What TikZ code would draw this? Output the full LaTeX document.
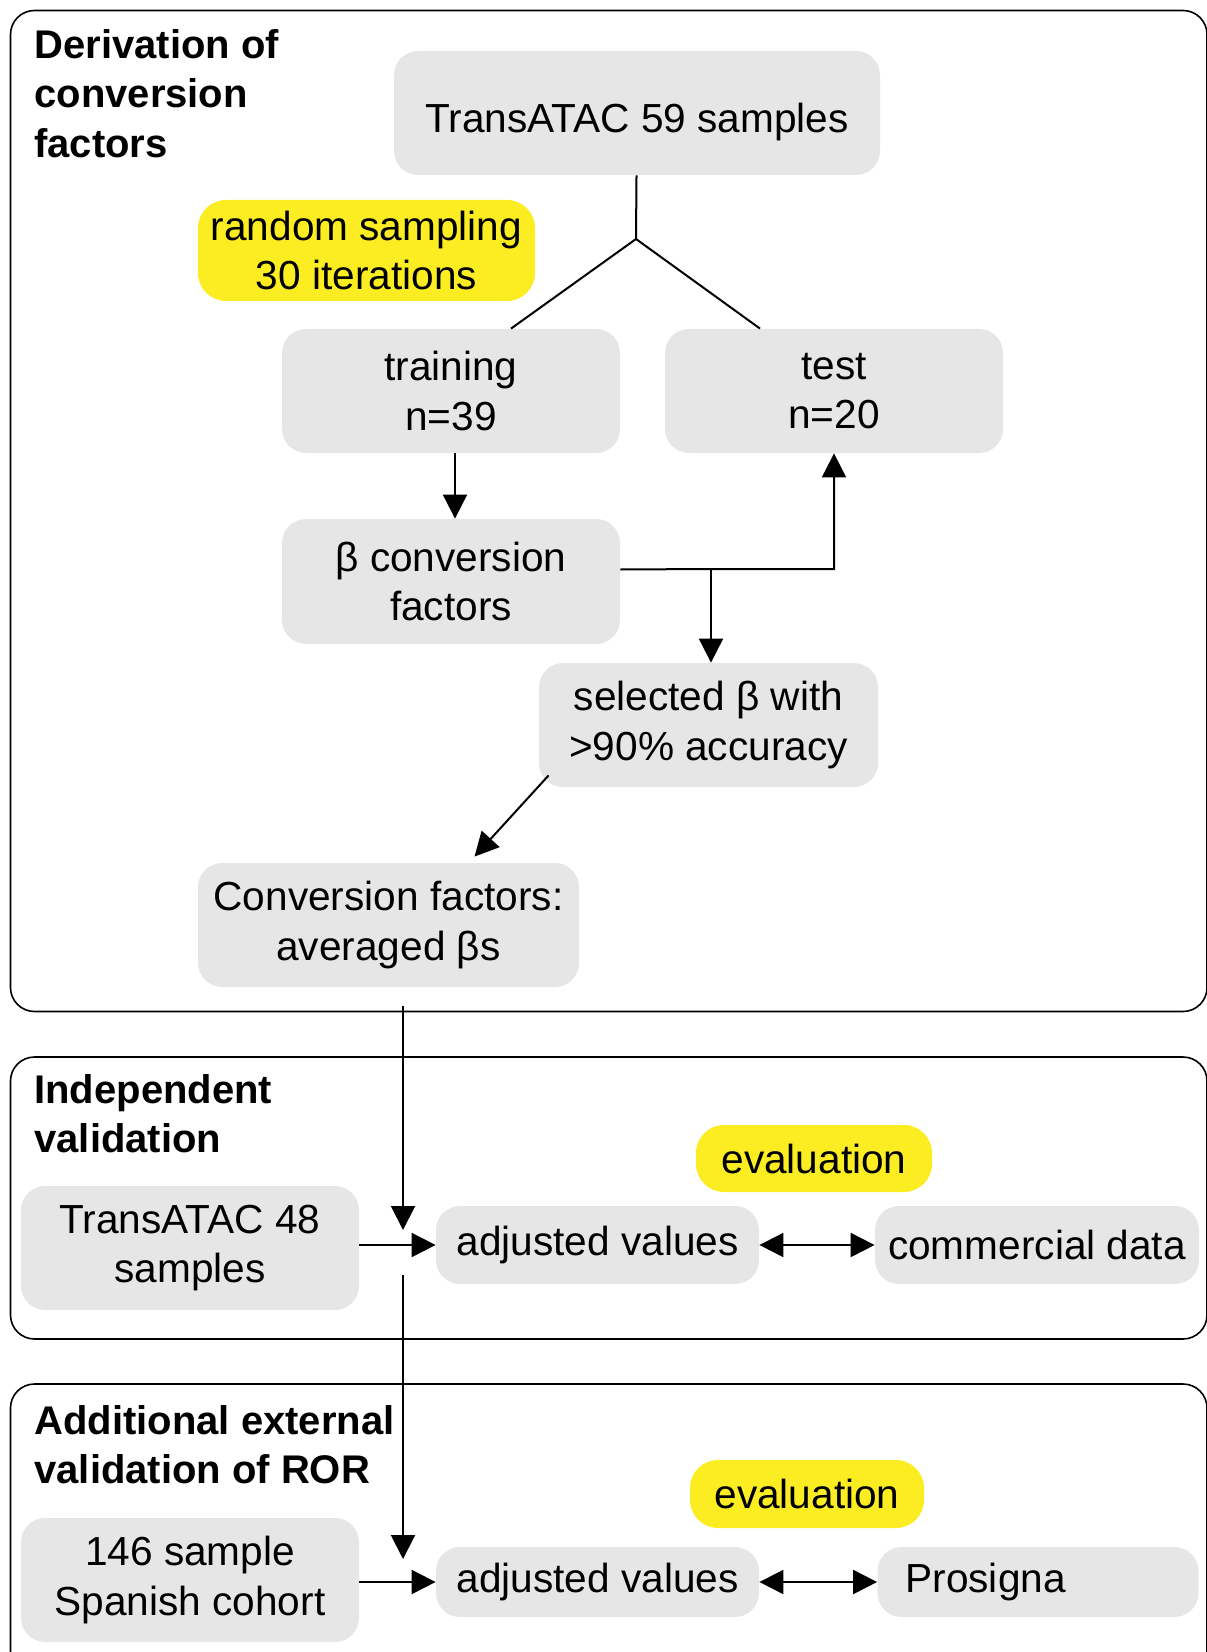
\documentclass[tikz,border=0pt]{standalone}
\usepackage{fontspec}
\setmainfont{Liberation Sans}
\usetikzlibrary{arrows.meta,positioning}
\definecolor{boxgray}{HTML}{E6E6E6}
\definecolor{hiyellow}{HTML}{FCEC22}

\begin{document}
\begin{tikzpicture}[x=0.5pt,y=-0.5pt,
  >={Triangle[length=12pt,width=12pt]},
  every node/.style={font=\fontsize{20.3}{24.75}\selectfont},
  box/.style={fill=boxgray,rounded corners=12pt,align=center,inner sep=0pt},
  hilite/.style={fill=hiyellow,rounded corners=14pt,align=center,inner sep=0pt},
  frame/.style={draw,line width=0.8pt,rounded corners=12pt},
  heading/.style={font=\fontsize{20}{24.75}\selectfont\bfseries,align=left,
    anchor=north west,inner sep=0pt},
  link/.style={line width=1pt}]
\useasboundingbox (0,0) rectangle (1206,1652);
% panels
\draw[frame] (10.5,10.5) rectangle (1207,1011.5);
\draw[frame] (10.5,1057) rectangle (1207,1339);
\draw[frame] (10.5,1384) rectangle (1207,1680);
\node[heading] (hderiv) at (34,29) {Derivation of\\conversion\\factors};
\node[heading] (hindep) at (34,1074) {Independent\\validation};
\node[heading] (hextra) at (34,1405) {Additional external\\validation of ROR};
% derivation
\node[box,minimum width=243pt,minimum height=62pt] (src) at (637,113)
  {\raisebox{-4.5pt}[\height][\depth]{TransATAC 59 samples}};
\node[hilite,minimum width=168.5pt,minimum height=50.5pt] (rand) at (366.5,250.5)
  {random sampling\\30 iterations};
\node[box,minimum width=169pt,minimum height=62pt] (train) at (451,391)
  {training\\n=39};
\node[box,minimum width=169pt,minimum height=62pt] (test) at (834,391)
  {test\\n=20};
\node[box,minimum width=169pt,minimum height=62.5pt] (beta) at (451,581.5)
  {β conversion\\factors};
\node[box,minimum width=169.5pt,minimum height=62pt] (sel) at (708.5,725)
  {selected β with\\>90\% accuracy};
\node[box,minimum width=190.5pt,minimum height=62pt] (conv) at (388.5,925)
  {Conversion factors:\\averaged βs};
% independent validation
\node[hilite,minimum width=118pt,minimum height=33.5pt] (eval1) at (814,1158.5)
  {evaluation};
\node[box,minimum width=169pt,minimum height=62pt] (val48) at (190,1248)
  {TransATAC 48\\samples};
\node[box,minimum width=161.5pt,minimum height=39pt] (adj1) at (597.5,1245)
  {adjusted values};
\node[box,minimum width=162pt,minimum height=39pt] (comm) at (1037,1245)
  {commercial data};
% external validation
\node[hilite,minimum width=117pt,minimum height=34pt] (eval2) at (807,1494)
  {evaluation};
\node[box,minimum width=169pt,minimum height=62pt] (spain) at (190,1580)
  {146 sample\\Spanish cohort};
\node[box,minimum width=161.5pt,minimum height=35pt] (adj2) at (597.5,1582)
  {adjusted values};
\node[box,align=left,text width=132.5pt,inner xsep=14pt,minimum height=35pt]
  (pros) at (1038,1582) {Prosigna};
% connectors
\coordinate (split) at (636,239);
\coordinate (fork) at (711,569);
\coordinate (drop1) at (403,1006);
\coordinate (tip1) at (403,1230);
\coordinate (drop2) at (403,1275);
\coordinate (tip2) at (403,1559);
\draw[link] (src) -- (split);
\draw[link] (split) -- ([xshift=30pt]train.north);
\draw[link] (split) -- ([xshift=-37pt]test.north);
\draw[link,->] ([xshift=2pt]train.south) -- ([xshift=2pt]beta.north);
\draw[link,->] ([yshift=6pt]beta.east) -- (fork) -| (test.south);
\draw[link,->] (fork) -- (fork |- sel.north);
\draw[link,->] ([xshift=5pt,yshift=6pt]sel.south west) -- ([xshift=43pt,yshift=3pt]conv.north);
\draw[link,->] (drop1) -- (tip1);
\draw[link,->] (val48.east |- adj1.west) -- (adj1.west);
\draw[link,<->] (adj1.east) -- (comm.west);
\draw[link,->] (drop2) -- (tip2);
\draw[link,->] (spain.east |- adj2.west) -- (adj2.west);
\draw[link,<->] (adj2.east) -- (pros.west);
\end{tikzpicture}
\end{document}
